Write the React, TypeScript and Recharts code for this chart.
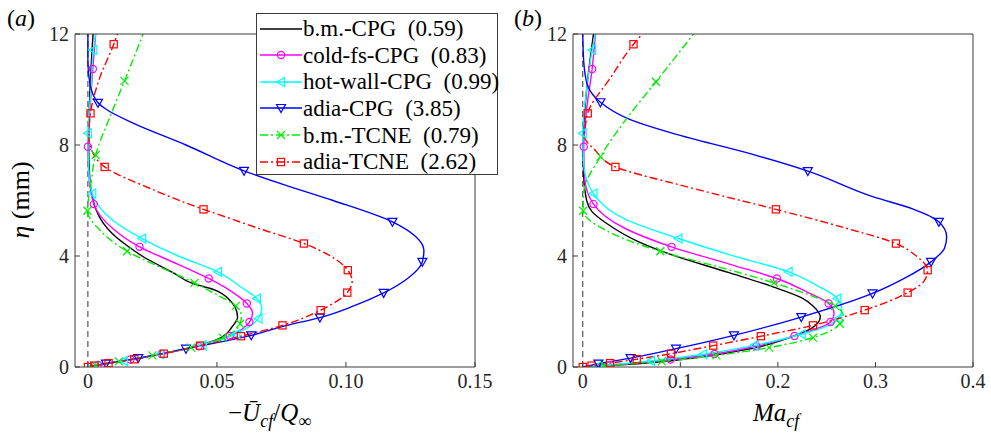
import React from "react";
import { LineChart, Line, XAxis, YAxis, ReferenceLine } from "recharts";

// Wall-normal profiles, two panels: (a) -U_cf/Q_inf, (b) Ma_cf, against eta (mm).
// Each point is [profile value, eta]. Curves are the traced lines, *Marks are the
// symbols MATLAB put on every n-th grid point.
type Pt = [number, number];

const ETA_TICKS = [0, 4, 8, 12];
const UCF_TICKS = [0, 0.05, 0.1, 0.15];
const MA_TICKS = [0, 0.1, 0.2, 0.3, 0.4];

const SERIES_NAMES = ["b.m.-CPG", "cold-fs-CPG", "hot-wall-CPG", "adia-CPG", "b.m.-TCNE", "adia-TCNE"];
const SERIES_VALUES = ["(0.59)", "(0.83)", "(0.99)", "(3.85)", "(0.79)", "(2.62)"];

// ---- panel (a): -U_cf / Q_inf ----
const bmCpgA: Pt[] = [
  [0, 0], [0.0058, 0.1], [0.0125, 0.2], [0.019, 0.3], [0.03, 0.5], [0.04, 0.7], [0.0475, 0.9],
  [0.052, 1.08], [0.0558, 1.44], [0.058, 1.8], [0.057, 2.16], [0.0551, 2.4], [0.0493, 2.77],
  [0.0403, 3.02], [0.033, 3.4], [0.021, 4.0], [0.0155, 4.35], [0.0095, 4.8], [0.0058, 5.2],
  [0.003, 5.7], [0.0016, 6.2], [0.0006, 7.0], [0.0003, 8.0], [0.0008, 10], [0.002, 12],
];
const coldA: Pt[] = [
  [0, 0], [0.0058, 0.1], [0.019, 0.3], [0.03, 0.5], [0.04, 0.7], [0.048, 0.9], [0.054, 1.08],
  [0.0595, 1.35], [0.0626, 1.62], [0.0638, 1.95], [0.0616, 2.29], [0.056, 2.7], [0.0468, 3.19],
  [0.035, 3.7], [0.02, 4.33], [0.0095, 5.0], [0.0023, 5.87], [0.0003, 7.0], [0, 7.94],
  [0.0006, 9.0], [0.0019, 10.74], [0.003, 12],
];
const coldMarksA: Pt[] = [
  [0.004, 0.07], [0.0165, 0.27], [0.0285, 0.47], [0.043, 0.75], [0.055, 1.12], [0.0626, 1.62],
  [0.0616, 2.29], [0.0468, 3.19], [0.02, 4.33], [0.0023, 5.87], [0, 7.94], [0.0019, 10.74],
];
const hotA: Pt[] = [
  [0, 0], [0.0058, 0.1], [0.019, 0.3], [0.03, 0.5], [0.04, 0.7], [0.048, 0.9], [0.055, 1.1],
  [0.0615, 1.4], [0.0661, 1.75], [0.0674, 2.1], [0.0655, 2.47], [0.059, 2.9], [0.0504, 3.43],
  [0.035, 4.0], [0.021, 4.63], [0.0095, 5.3], [0.0017, 6.25], [0.0002, 7.3], [0, 8.42],
  [0.0012, 10], [0.0021, 11.42], [0.003, 12],
];
const hotMarksA: Pt[] = [
  [0.0023, 0.04], [0.014, 0.22], [0.028, 0.46], [0.0445, 0.78], [0.0575, 1.18], [0.0661, 1.75],
  [0.0655, 2.47], [0.0504, 3.43], [0.021, 4.63], [0.0017, 6.25], [0, 8.42], [0.0021, 11.42],
];
const adiaA: Pt[] = [
  [0, 0], [0.007, 0.12], [0.0195, 0.32], [0.038, 0.66], [0.0633, 1.14], [0.077, 1.5], [0.0899, 1.78],
  [0.103, 2.2], [0.1146, 2.67], [0.124, 3.2], [0.1296, 3.79], [0.1302, 4.2], [0.127, 4.7],
  [0.118, 5.23], [0.095, 6.0], [0.075, 6.6], [0.0605, 7.07], [0.038, 8.0], [0.0177, 8.78],
  [0.0075, 9.26], [0.0039, 9.52], [0.0008, 10.2], [0, 11], [0, 12],
];
const adiaMarksA: Pt[] = [
  [0.007, 0.12], [0.0195, 0.32], [0.038, 0.66], [0.0633, 1.14], [0.0899, 1.78], [0.1146, 2.67],
  [0.1296, 3.79], [0.118, 5.23], [0.0605, 7.07], [0.0039, 9.52],
];
const bmTcneA: Pt[] = [
  [0, 0], [0.012, 0.2], [0.025, 0.42], [0.04, 0.7], [0.0523, 1.06], [0.059, 1.56], [0.0595, 1.85],
  [0.0573, 2.2], [0.05, 2.6], [0.0413, 3.03], [0.028, 3.6], [0.0152, 4.17], [0.005, 4.9],
  [-0.0002, 5.63], [0.001, 6.5], [0.003, 7.64], [0.0085, 9.0], [0.0142, 10.31], [0.0214, 12],
];
const bmTcneMarksA: Pt[] = [
  [0.003, 0.05], [0.012, 0.2], [0.025, 0.42], [0.04, 0.7], [0.0523, 1.06], [0.059, 1.56],
  [0.0573, 2.2], [0.0413, 3.03], [0.0152, 4.17], [-0.0002, 5.63], [0.003, 7.64], [0.0142, 10.31],
];
const adiaTcneA: Pt[] = [
  [0, 0], [0.0025, 0.05], [0.008, 0.14], [0.018, 0.28], [0.0294, 0.48], [0.0435, 0.77],
  [0.0593, 1.11], [0.0754, 1.5], [0.0902, 2.05], [0.1005, 2.68], [0.1024, 3.1], [0.1007, 3.49],
  [0.094, 4.0], [0.0837, 4.45], [0.066, 5.0], [0.0552, 5.35], [0.0448, 5.68], [0.025, 6.4],
  [0.0065, 7.21], [0.0015, 7.8], [0.0004, 8.3], [0.001, 9.14], [0.0045, 10.4], [0.01, 11.63],
  [0.0114, 12],
];
const adiaTcneMarksA: Pt[] = [
  [0, 0], [0.0025, 0.05], [0.008, 0.14], [0.018, 0.28], [0.0294, 0.48], [0.0435, 0.77],
  [0.0593, 1.11], [0.0754, 1.5], [0.0902, 2.05], [0.1005, 2.68], [0.1007, 3.49], [0.0837, 4.45],
  [0.0448, 5.68], [0.0065, 7.21], [0.001, 9.14], [0.01, 11.63],
];

// ---- panel (b): Ma_cf ----
const bmCpgB: Pt[] = [
  [0, 0], [0.048, 0.1], [0.078, 0.18], [0.108, 0.3], [0.134, 0.42], [0.163, 0.6], [0.18, 0.72],
  [0.207, 1.0], [0.234, 1.38], [0.2435, 1.8], [0.236, 2.2], [0.224, 2.5], [0.195, 2.89],
  [0.15, 3.4], [0.093, 4.02], [0.058, 4.5], [0.0246, 5.17], [0.0095, 5.6], [0.004, 6.0],
  [0.0008, 7.0], [0.0003, 8.0], [0.004, 10], [0.011, 12],
];
const coldB: Pt[] = [
  [0, 0], [0.028, 0.07], [0.09, 0.27], [0.135, 0.47], [0.178, 0.75], [0.217, 1.12], [0.254, 1.62],
  [0.2576, 1.93], [0.252, 2.29], [0.23, 2.7], [0.199, 3.19], [0.151, 3.7], [0.091, 4.33],
  [0.043, 5.0], [0.011, 5.87], [0.002, 6.8], [0.001, 7.94], [0.004, 9.3], [0.0096, 10.74],
  [0.013, 12],
];
const coldMarksB: Pt[] = [
  [0.028, 0.07], [0.09, 0.27], [0.135, 0.47], [0.178, 0.75], [0.217, 1.12], [0.254, 1.62],
  [0.252, 2.29], [0.199, 3.19], [0.091, 4.33], [0.011, 5.87], [0.001, 7.94], [0.0096, 10.74],
];
const hotB: Pt[] = [
  [0, 0], [0.016, 0.04], [0.07, 0.22], [0.1235, 0.46], [0.176, 0.78], [0.2245, 1.18], [0.252, 1.5],
  [0.262, 1.75], [0.2655, 2.05], [0.261, 2.47], [0.242, 2.9], [0.211, 3.43], [0.15, 4.05],
  [0.098, 4.63], [0.045, 5.3], [0.011, 6.25], [0.001, 7.3], [0, 8.42], [0.004, 10],
  [0.0096, 11.42], [0.013, 12],
];
const hotMarksB: Pt[] = [
  [0.016, 0.04], [0.07, 0.22], [0.1235, 0.46], [0.176, 0.78], [0.2245, 1.18], [0.262, 1.75],
  [0.261, 2.47], [0.211, 3.43], [0.098, 4.63], [0.011, 6.25], [0, 8.42], [0.0096, 11.42],
];
const adiaB: Pt[] = [
  [0, 0], [0.016, 0.12], [0.049, 0.32], [0.0956, 0.66], [0.155, 1.14], [0.224, 1.8], [0.297, 2.65],
  [0.33, 3.2], [0.357, 3.79], [0.371, 4.3], [0.373, 4.69], [0.365, 5.23], [0.338, 5.7],
  [0.298, 6.13], [0.2307, 7.06], [0.165, 7.75], [0.095, 8.39], [0.047, 8.94], [0.0181, 9.54],
  [0.0045, 10.2], [0.001, 11], [0, 12],
];
const adiaMarksB: Pt[] = [
  [0.016, 0.12], [0.049, 0.32], [0.0956, 0.66], [0.155, 1.14], [0.224, 1.8], [0.297, 2.65],
  [0.357, 3.79], [0.365, 5.23], [0.2307, 7.06], [0.0181, 9.54],
];
const bmTcneB: Pt[] = [
  [0, 0], [0.022, 0.05], [0.081, 0.2], [0.137, 0.42], [0.191, 0.7], [0.236, 1.06], [0.2636, 1.56],
  [0.267, 1.85], [0.2587, 2.2], [0.232, 2.6], [0.196, 3.03], [0.14, 3.6], [0.0795, 4.17],
  [0.025, 4.9], [0.0004, 5.63], [0.001, 6.3], [0.0181, 7.58], [0.046, 9.0], [0.075, 10.28],
  [0.1136, 12],
];
const bmTcneMarksB: Pt[] = [
  [0.022, 0.05], [0.081, 0.2], [0.137, 0.42], [0.191, 0.7], [0.236, 1.06], [0.2636, 1.56],
  [0.2587, 2.2], [0.196, 3.03], [0.0795, 4.17], [0.0004, 5.63], [0.0181, 7.58], [0.075, 10.28],
];
const adiaTcneB: Pt[] = [
  [0, 0], [0.009, 0.05], [0.028, 0.14], [0.0553, 0.28], [0.0905, 0.48], [0.1338, 0.77],
  [0.1826, 1.11], [0.236, 1.5], [0.289, 2.05], [0.333, 2.68], [0.35, 3.1], [0.3535, 3.49],
  [0.342, 4.0], [0.321, 4.45], [0.27, 5.0], [0.198, 5.68], [0.162, 6.0], [0.095, 6.6],
  [0.0335, 7.21], [0.013, 7.8], [0.002, 8.3], [0.0051, 9.14], [0.028, 10.4], [0.052, 11.63],
  [0.061, 12],
];
const adiaTcneMarksB: Pt[] = [
  [0, 0], [0.009, 0.05], [0.028, 0.14], [0.0553, 0.28], [0.0905, 0.48], [0.1338, 0.77],
  [0.1826, 1.11], [0.236, 1.5], [0.289, 2.05], [0.333, 2.68], [0.3535, 3.49], [0.321, 4.45],
  [0.198, 5.68], [0.0335, 7.21], [0.0051, 9.14], [0.052, 11.63],
];

const SERIF = "'Liberation Serif', serif";
const AXIS = "#3a3a3a";
const DASHDOT = "8 3 2 3";

// MATLAB default colours, marker per series
const STYLE: { color: string; marker: string | null; dash?: string }[] = [
  { color: "#000000", marker: null },
  { color: "#ff00ff", marker: "o" },
  { color: "#00ffff", marker: "<" },
  { color: "#0000ff", marker: "v" },
  { color: "#00ee00", marker: "x", dash: DASHDOT },
  { color: "#ff0000", marker: "s", dash: DASHDOT },
];

const toPts = (arr: Pt[]) => arr.map(([x, y]) => ({ x, y }));

function Marker({ shape, cx, cy, color }: { shape: string; cx: number; cy: number; color: string }) {
  const p = { fill: "none", stroke: color, strokeWidth: 1.2 };
  if (shape === "o") return <circle cx={cx} cy={cy} r={3.6} {...p} />;
  if (shape === "<")
    return <polygon points={`${cx - 4.5},${cy} ${cx + 3.5},${cy - 4.5} ${cx + 3.5},${cy + 4.5}`} {...p} />;
  if (shape === "v")
    return <polygon points={`${cx - 4.5},${cy - 3.5} ${cx + 4.5},${cy - 3.5} ${cx},${cy + 4.5}`} {...p} />;
  if (shape === "x")
    return (
      <g {...p}>
        <line x1={cx - 4} y1={cy - 4} x2={cx + 4} y2={cy + 4} />
        <line x1={cx - 4} y1={cy + 4} x2={cx + 4} y2={cy - 4} />
      </g>
    );
  return <rect x={cx - 3.6} y={cy - 3.6} width={7.2} height={7.2} {...p} />;
}

type PanelProps = {
  curves: Pt[][];
  marks: (Pt[] | null)[];
  xDomain: [number, number];
  xTicks: number[];
  fmt: (v: number) => string;
  width: number;
  yAxisWidth: number;
  marginRight: number;
};

function Panel({ curves, marks, xDomain, xTicks, fmt, width, yAxisWidth, marginRight }: PanelProps) {
  const tickFont = { fill: "#262626", fontSize: 20, fontFamily: SERIF };
  return (
    <LineChart width={width} height={436} margin={{ top: 33, right: marginRight, bottom: 39, left: 0 }}>
      <XAxis
        dataKey="x"
        type="number"
        domain={xDomain}
        ticks={xTicks}
        allowDataOverflow
        tickFormatter={fmt}
        tick={tickFont}
        tickSize={-5}
        tickMargin={12}
        height={30}
        axisLine={{ stroke: AXIS }}
        tickLine={{ stroke: AXIS }}
      />
      <XAxis
        xAxisId="top"
        orientation="top"
        type="number"
        domain={xDomain}
        ticks={xTicks}
        allowDataOverflow
        tick={false}
        tickSize={-5}
        height={1}
        axisLine={{ stroke: AXIS }}
        tickLine={{ stroke: AXIS }}
      />
      <YAxis
        type="number"
        domain={[0, 12]}
        ticks={ETA_TICKS}
        allowDataOverflow
        tick={tickFont}
        tickSize={-5}
        tickMargin={11}
        width={yAxisWidth}
        axisLine={{ stroke: AXIS }}
        tickLine={{ stroke: AXIS }}
      />
      <YAxis
        yAxisId="right"
        orientation="right"
        type="number"
        domain={[0, 12]}
        ticks={ETA_TICKS}
        allowDataOverflow
        tick={false}
        tickSize={-5}
        width={1}
        axisLine={{ stroke: AXIS }}
        tickLine={{ stroke: AXIS }}
      />
      <ReferenceLine x={0} stroke="#333" strokeDasharray="6 4" strokeWidth={1} />
      {curves.flatMap((c, i) => {
        const st = STYLE[i];
        const out = [
          <Line
            key={"c" + i}
            data={toPts(c)}
            dataKey="y"
            type="monotoneY"
            stroke={st.color}
            strokeWidth={1.4}
            strokeDasharray={st.dash}
            dot={false}
            activeDot={false}
            isAnimationActive={false}
          />,
        ];
        const m = marks[i];
        if (m && st.marker) {
          const shape = st.marker;
          out.push(
            <Line
              key={"m" + i}
              data={toPts(m)}
              dataKey="y"
              stroke="none"
              activeDot={false}
              isAnimationActive={false}
              dot={(p: any) => <Marker key={"d" + i + "-" + p.index} shape={shape} cx={p.cx} cy={p.cy} color={st.color} />}
            />
          );
        }
        return out;
      })}
    </LineChart>
  );
}

function LegendBox() {
  return (
    <div
      style={{
        position: "absolute",
        left: 256,
        top: 13,
        width: 242,
        height: 162,
        boxSizing: "border-box",
        border: `1px solid ${AXIS}`,
        background: "#fff",
        paddingTop: 1.4,
        fontFamily: SERIF,
        fontSize: 23,
        color: "#000",
      }}
    >
      {SERIES_NAMES.map((name, i) => {
        const st = STYLE[i];
        return (
          <div key={name} style={{ height: 26.6, display: "flex", alignItems: "center" }}>
            <svg width={46} height={20} style={{ flex: "none" }}>
              <line x1={3} y1={10} x2={45} y2={10} stroke={st.color} strokeWidth={1.4} strokeDasharray={st.dash} />
              {st.marker && <Marker shape={st.marker} cx={24} cy={10} color={st.color} />}
            </svg>
            <span style={{ whiteSpace: "pre", lineHeight: 1 }}>{`${name}  ${SERIES_VALUES[i]}`}</span>
          </div>
        );
      })}
    </div>
  );
}

export default function App() {
  return (
    <div style={{ position: "absolute", left: 0, top: 0, width: 991, height: 436, background: "#fff", overflow: "hidden" }}>
      <div style={{ position: "absolute", left: 0, top: 0 }}>
        <Panel
          curves={[bmCpgA, coldA, hotA, adiaA, bmTcneA, adiaTcneA]}
          marks={[null, coldMarksA, hotMarksA, adiaMarksA, bmTcneMarksA, adiaTcneMarksA]}
          xDomain={[-0.005, 0.15]}
          xTicks={UCF_TICKS}
          fmt={(v) => (v === 0 ? "0" : v.toFixed(2))}
          width={500}
          yAxisWidth={75}
          marginRight={24}
        />
      </div>
      <div style={{ position: "absolute", left: 500, top: 0 }}>
        <Panel
          curves={[bmCpgB, coldB, hotB, adiaB, bmTcneB, adiaTcneB]}
          marks={[null, coldMarksB, hotMarksB, adiaMarksB, bmTcneMarksB, adiaTcneMarksB]}
          xDomain={[-0.01, 0.4]}
          xTicks={MA_TICKS}
          fmt={(v) => (v === 0 ? "0" : v.toFixed(1))}
          width={491}
          yAxisWidth={73}
          marginRight={17}
        />
      </div>
      <svg
        width={991}
        height={436}
        style={{ position: "absolute", left: 0, top: 0, pointerEvents: "none" }}
        fontFamily={SERIF}
        fill="#000"
      >
        <text x={7} y={26} fontSize={24}>
          (<tspan fontStyle="italic">a</tspan>)
        </text>
        <text x={514} y={26} fontSize={24}>
          (<tspan fontStyle="italic">b</tspan>)
        </text>
        <text transform="translate(29,200) rotate(-90)" textAnchor="middle" fontSize={26}>
          <tspan fontStyle="italic">η</tspan> (mm)
        </text>
        <text x={228} y={421} fontSize={25}>
          −<tspan fontStyle="italic">Ū</tspan>
          <tspan fontStyle="italic" fontSize={18} dy={6}>cf</tspan>
          <tspan dy={-6}>/</tspan>
          <tspan fontStyle="italic">Q</tspan>
          <tspan fontSize={18} dy={6}>∞</tspan>
        </text>
        <text x={753} y={421} fontSize={25}>
          <tspan fontStyle="italic">Ma</tspan>
          <tspan fontStyle="italic" fontSize={18} dy={6}>cf</tspan>
        </text>
      </svg>
      <LegendBox />
    </div>
  );
}
